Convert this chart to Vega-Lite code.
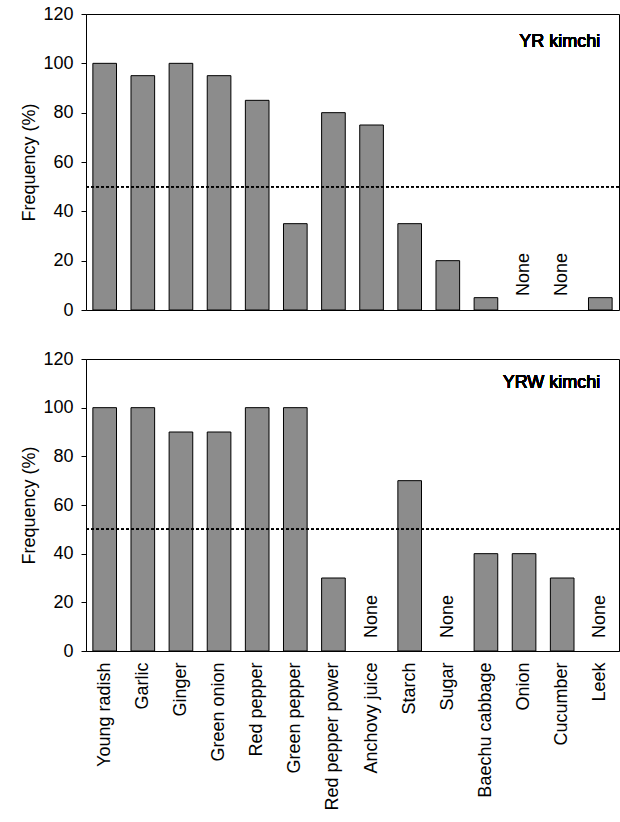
{
  "$schema": "https://vega.github.io/schema/vega-lite/v6.json",
  "padding": {"left": 20, "top": 4, "right": 5, "bottom": 5},
  "background": "white",
  "datasets": {
    "yr": [
      {"cat": "Young radish", "freq": 100},
      {"cat": "Garlic", "freq": 95},
      {"cat": "Ginger", "freq": 100},
      {"cat": "Green onion", "freq": 95},
      {"cat": "Red pepper", "freq": 85},
      {"cat": "Green pepper", "freq": 35},
      {"cat": "Red pepper power", "freq": 80},
      {"cat": "Anchovy juice", "freq": 75},
      {"cat": "Starch", "freq": 35},
      {"cat": "Sugar", "freq": 20},
      {"cat": "Baechu cabbage", "freq": 5},
      {"cat": "Onion", "freq": null},
      {"cat": "Cucumber", "freq": null},
      {"cat": "Leek", "freq": 5}
    ],
    "yrw": [
      {"cat": "Young radish", "freq": 100},
      {"cat": "Garlic", "freq": 100},
      {"cat": "Ginger", "freq": 90},
      {"cat": "Green onion", "freq": 90},
      {"cat": "Red pepper", "freq": 100},
      {"cat": "Green pepper", "freq": 100},
      {"cat": "Red pepper power", "freq": 30},
      {"cat": "Anchovy juice", "freq": null},
      {"cat": "Starch", "freq": 70},
      {"cat": "Sugar", "freq": null},
      {"cat": "Baechu cabbage", "freq": 40},
      {"cat": "Onion", "freq": 40},
      {"cat": "Cucumber", "freq": 30},
      {"cat": "Leek", "freq": null}
    ]
  },
  "spacing": 29,
  "vconcat": [
    {
      "width": 533,
      "height": 296,
      "data": {"name": "yr"},
      "layer": [
        {
          "transform": [{"filter": "datum.freq !== null"}],
          "mark": {"type": "bar", "fill": "#8c8c8c", "stroke": "black", "strokeWidth": 1},
          "encoding": {
            "x": {"field": "cat", "type": "nominal", "axis": null,
                  "scale": {"domain": ["Young radish","Garlic","Ginger","Green onion","Red pepper","Green pepper","Red pepper power","Anchovy juice","Starch","Sugar","Baechu cabbage","Onion","Cucumber","Leek"], "paddingInner": 0.38, "paddingOuter": 0.18}},
            "y": {"field": "freq", "type": "quantitative",
                  "scale": {"domain": [0, 120]},
                  "axis": {"title": "Frequency (%)", "values": [0,20,40,60,80,100,120]}}
          }
        },
        {
          "transform": [{"filter": "datum.freq === null"}],
          "mark": {"type": "text", "text": "None", "angle": 270, "align": "left", "baseline": "middle", "dx": 14, "fontSize": 18, "fontWeight": "normal", "font": "Liberation Sans", "color": "black"},
          "encoding": {
            "x": {"field": "cat", "type": "nominal"},
            "y": {"datum": 0}
          }
        },
        {
          "mark": {"type": "rule", "strokeDash": [3, 2], "color": "black", "strokeWidth": 1},
          "encoding": {"y": {"datum": 50}}
        },
        {
          "mark": {"type": "text", "text": "YR kimchi", "align": "right", "baseline": "middle", "fontSize": 18, "fontWeight": "normal", "font": "Liberation Sans", "color": "black"},
          "encoding": {"x": {"datum": "Leek"}, "y": {"datum": 108.5}}
        }
      ]
    },
    {
      "width": 533,
      "height": 292,
      "data": {"name": "yrw"},
      "layer": [
        {
          "transform": [{"filter": "datum.freq !== null"}],
          "mark": {"type": "bar", "fill": "#8c8c8c", "stroke": "black", "strokeWidth": 1},
          "encoding": {
            "x": {"field": "cat", "type": "nominal",
                  "scale": {"domain": ["Young radish","Garlic","Ginger","Green onion","Red pepper","Green pepper","Red pepper power","Anchovy juice","Starch","Sugar","Baechu cabbage","Onion","Cucumber","Leek"], "paddingInner": 0.38, "paddingOuter": 0.18},
                  "axis": {"title": null, "labelAngle": 270, "labelAlign": "right", "labelBaseline": "middle", "ticks": false, "labelPadding": 11}},
            "y": {"field": "freq", "type": "quantitative",
                  "scale": {"domain": [0, 120]},
                  "axis": {"title": "Frequency (%)", "values": [0,20,40,60,80,100,120]}}
          }
        },
        {
          "transform": [{"filter": "datum.freq === null"}],
          "mark": {"type": "text", "text": "None", "angle": 270, "align": "left", "baseline": "middle", "dx": 13, "fontSize": 18, "fontWeight": "normal", "font": "Liberation Sans", "color": "black"},
          "encoding": {
            "x": {"field": "cat", "type": "nominal"},
            "y": {"datum": 0}
          }
        },
        {
          "mark": {"type": "rule", "strokeDash": [3, 2], "color": "black", "strokeWidth": 1},
          "encoding": {"y": {"datum": 50}}
        },
        {
          "mark": {"type": "text", "text": "YRW kimchi", "align": "right", "baseline": "middle", "fontSize": 18, "fontWeight": "normal", "font": "Liberation Sans", "color": "black"},
          "encoding": {"x": {"datum": "Leek"}, "y": {"datum": 110}}
        }
      ]
    }
  ],
  "config": {
    "view": {"stroke": "black", "strokeWidth": 1},
    "font": "Liberation Sans",
    "axis": {
      "grid": false,
      "domainColor": "black",
      "tickColor": "black",
      "tickSize": 5,
      "labelPadding": 8,
      "labelColor": "black",
      "titleColor": "black",
      "labelFont": "Liberation Sans",
      "titleFont": "Liberation Sans",
      "labelFontSize": 18,
      "titleFontSize": 18,
      "titleFontWeight": "normal",
      "titlePadding": 4
    }
  }
}
